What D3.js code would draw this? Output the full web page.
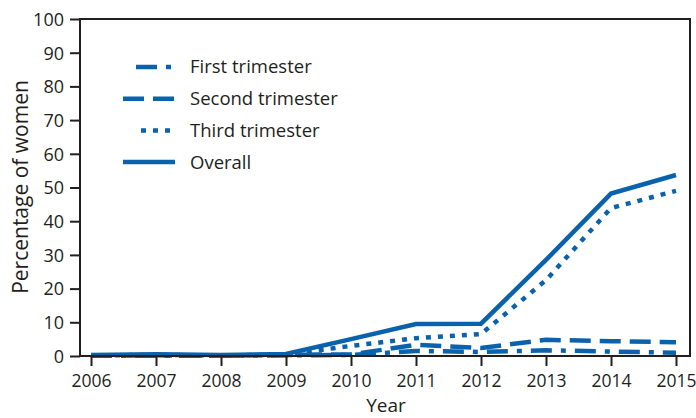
<!DOCTYPE html>
<html>
<head>
<meta charset="utf-8">
<script src="https://cdn.jsdelivr.net/npm/d3@7"></script>
<style>
  body { margin: 0; background: #fff; }
  svg text { font-family: "Open Sans", sans-serif; fill: #231f20; }
</style>
</head>
<body>
<svg id="chart"></svg>
<script>
const years = [2006, 2007, 2008, 2009, 2010, 2011, 2012, 2013, 2014, 2015];
const firstTrimester  = [0.1, 0.1, 0.1, 0.2, 0.3, 1.5, 1.2, 1.7, 1.3, 1.0];
const secondTrimester = [0.1, 0.2, 0.1, 0.3, 0.5, 3.3, 2.4, 4.8, 4.4, 4.1];
const thirdTrimester  = [0.2, 0.3, 0.2, 0.4, 3.0, 5.3, 6.5, 22.5, 43.9, 49.0];
const overall         = [0.3, 0.5, 0.3, 0.6, 5.0, 9.5, 9.6, 28.5, 48.2, 53.7];
const yTicks = [0, 10, 20, 30, 40, 50, 60, 70, 80, 90, 100];

const series = [
    {name: 'First trimester', values: firstTrimester, dash: '21,9,5,9'},
    {name: 'Second trimester', values: secondTrimester, dash: '21,9'},
    {name: 'Third trimester', values: thirdTrimester, dash: '5,7'},
    {name: 'Overall', values: overall, dash: null}
];

const width = 696, height = 418;
const margin = {left: 80, right: 6, top: 19, bottom: 62};
const blue = '#0a62ad';
const ink = '#231f20';

const svg = d3.select('#chart')
    .attr('width', width)
    .attr('height', height);

const x = d3.scaleLinear()
    .domain([2006, 2015])
    .range([91, 676]);

const y = d3.scaleLinear()
    .domain([0, 100])
    .range([height - margin.bottom, margin.top]);

// lines
const line = d3.line()
    .x((d, i) => x(years[i]))
    .y(d => y(d));

svg.append('g').selectAll('path')
    .data(series)
    .join('path')
    .attr('d', d => line(d.values))
    .attr('fill', 'none')
    .attr('stroke', blue)
    .attr('stroke-width', 4.5)
    .attr('stroke-dasharray', d => d.dash);

// frame
svg.append('rect')
    .attr('x', margin.left)
    .attr('y', margin.top)
    .attr('width', width - margin.right - margin.left)
    .attr('height', height - margin.bottom - margin.top)
    .attr('fill', 'none')
    .attr('stroke', ink)
    .attr('stroke-width', 2);

// y axis
const yAxis = svg.append('g')
    .attr('transform', `translate(${margin.left},0)`)
    .call(d3.axisLeft(y).tickValues(yTicks).tickSize(10).tickPadding(6));
yAxis.select('.domain').remove();
yAxis.selectAll('line').attr('stroke', ink).attr('stroke-width', 2);
yAxis.selectAll('text').style('font-size', '18px').attr('dy', '0.35em');

// x axis
const xAxis = svg.append('g')
    .attr('transform', `translate(0,${height - margin.bottom})`)
    .call(d3.axisBottom(x).tickValues(years).tickFormat(d3.format('d')).tickSize(10).tickPadding(9));
xAxis.select('.domain').remove();
xAxis.selectAll('line').attr('stroke', ink).attr('stroke-width', 2);
xAxis.selectAll('text').style('font-size', '17.5px');

// axis titles
svg.append('text')
    .attr('x', 386)
    .attr('y', 412)
    .attr('text-anchor', 'middle')
    .style('font-size', '19px')
    .text('Year');

svg.append('text')
    .attr('transform', 'translate(28,187) rotate(-90)')
    .attr('text-anchor', 'middle')
    .style('font-size', '21px')
    .text('Percentage of women');

// legend
const legendStarts = [136, 123, 141, 123];
const legend = svg.append('g').selectAll('g')
    .data(series)
    .join('g')
    .attr('transform', (d, i) => `translate(0,${67 + i * 31.7})`);

legend.append('line')
    .attr('x1', (d, i) => legendStarts[i])
    .attr('x2', 175)
    .attr('stroke', blue)
    .attr('stroke-width', 4.5)
    .attr('stroke-dasharray', d => d.dash);

legend.append('text')
    .attr('x', 190)
    .attr('dy', '0.35em')
    .style('font-size', '18.5px')
    .text(d => d.name);
</script>
</body>
</html>
